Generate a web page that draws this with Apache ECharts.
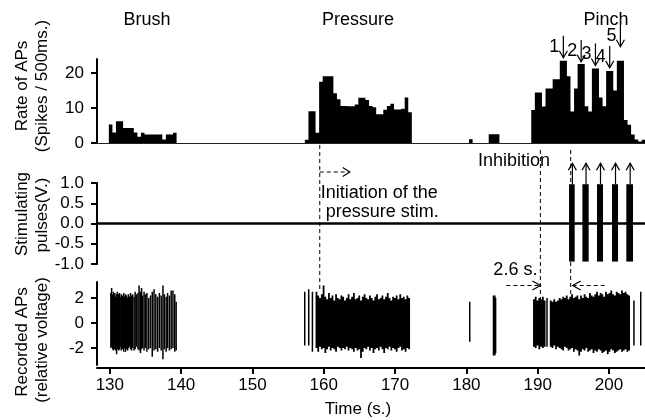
<!DOCTYPE html>
<html><head><meta charset="utf-8">
<script src="https://cdn.jsdelivr.net/npm/echarts@6/dist/echarts.min.js"></script>
<style>html,body{margin:0;padding:0;background:#fff}#c{width:645px;height:420px}</style>
</head><body><div id="c"></div>
<script>
// ---------- tick labels ----------
const xTicks = [130, 140, 150, 160, 170, 180, 190, 200];
const rateTicks = [0, 10, 20];
const stimTicks = [-1, -0.5, 0, 0.5, 1];
const apTicks = [-2, 0, 2];

// ---------- rate histogram (spikes / 500 ms), bin start times (s) ----------
const brushBinT = [129.86,130.36,130.86,131.36,131.86,132.36,132.86,133.36,133.86,134.36,134.86,135.36,135.86,136.36,136.86,137.36,137.86,138.36,138.86];
const brushBinV = [5.3,3.0,6.2,6.2,4.3,4.3,4.3,3.0,1.8,2.9,2.4,2.4,2.4,2.4,2.4,1.0,2.4,2.4,2.9];
const pressBinT = [157.35,157.85,158.35,158.85,159.35,159.85,160.35,160.85,161.35,161.85,162.35,162.85,163.35,163.85,164.35,164.85,165.35,165.85,166.35,166.85,167.35,167.85,168.35,168.85,169.35,169.85,170.35,170.85,171.35,171.85];
const pressBinV = [0.9,9.1,9.1,2.9,17.5,19.1,19.1,19.1,14.2,12.5,10.6,10.6,10.5,10.5,11.0,12.9,12.9,12.3,10.6,10.2,8.2,8.2,9.5,10.6,11.2,9.6,9.6,9.8,13.0,8.8];
const smallBinT = [180.37,183.13,183.63,184.13];
const smallBinV = [1.1,2.5,2.5,2.5];
const pinchBinT = [189.1,189.6,190.1,190.6,191.1,191.6,192.1,192.6,193.1,193.6,194.1,194.6,195.1,195.6,196.1,196.6,197.1,197.6,198.1,198.6,199.1,199.6,200.1,200.6,201.1,201.6,202.1,202.6,203.1,203.6,204.1,204.6];
const pinchBinV = [9.4,14.4,14.4,10.4,15.6,15.6,18.2,18.2,23.5,23.5,19.1,9.0,15.6,22.6,22.6,10.5,9.0,21.3,21.3,13.0,10.5,20.6,20.6,15.0,23.5,23.5,6.6,5.2,2.4,1.0,0.4,0.9];

// ---------- stimulating pulses (V.) ----------
const stimTraceT = [128.2, 205.05];
const stimTraceV = [0, 0];
const pulseStart = [194.40,196.27,198.32,200.42,202.43];
const pulseEnd   = [195.19,197.15,199.16,201.27,203.37];
const pulseLo    = [-0.94,-0.94,-0.94,-0.94,-0.94];
const pulseHi    = [0.97,0.97,0.97,0.97,0.97];

// ---------- recorded APs (relative voltage) ----------
const brushSpikeT = [130.15,130.25,130.4,130.5,130.6,130.7,130.8,130.95,131.05,131.15,131.25,131.35,131.45,131.6,131.7,131.8,131.95,132.05,132.2,132.35,132.5,132.6,132.75,132.9,133.05,133.2,133.4,133.55,133.75,133.95,134.1,134.3,134.45,134.6,134.8,135.0,135.2,135.45,135.7,135.95,136.2,136.45,136.7,136.95,137.2,137.45,137.65,137.9,138.1,138.35,138.6,138.85,139.1,139.3];
const brushSpikeHi = [2.4,2.8,2.3,2.5,2.2,2.4,2.1,2.3,2.5,2.2,2.3,2.4,2.1,2.3,2.0,2.2,2.4,2.1,2.3,2.2,2.0,2.3,2.1,2.4,2.2,2.3,2.1,2.5,2.3,2.4,3.0,2.5,2.8,2.2,2.5,2.3,2.4,2.0,2.2,2.5,2.7,2.3,2.1,2.4,2.2,3.0,2.3,2.1,2.4,2.2,2.6,2.6,2.3,1.7];
const brushSpikeLo = [-2.0,-1.9,-2.1,-2.2,-2.0,-2.1,-2.2,-2.5,-2.1,-2.0,-2.2,-2.1,-1.9,-2.2,-2.0,-2.1,-2.3,-2.0,-2.3,-2.1,-2.2,-2.0,-1.9,-2.1,-2.2,-2.0,-2.2,-2.1,-1.9,-2.1,-2.2,-2.4,-2.1,-2.0,-2.2,-2.0,-2.3,-2.1,-2.0,-2.7,-2.2,-2.1,-2.3,-2.0,-2.2,-2.9,-2.1,-2.3,-2.0,-2.2,-2.1,-2.0,-2.3,-2.2];
const otherSpikeT  = [157.33,157.89,158.41,180.47,183.8,183.9,184.0,184.1,191.31,203.5,204.45];
const otherSpikeHi = [2.5,2.7,2.5,1.7,2.2,2.1,2.2,2.0,2.0,1.8,2.5];
const otherSpikeLo = [-1.8,-1.8,-2.3,-1.5,-2.6,-2.5,-2.6,-2.4,-1.9,-1.8,-1.8];
const pressDenseT = [158.85,159.1,159.35,159.6,159.85,160.1,160.35,160.6,160.85,161.1,161.35,161.6,161.85,162.1,162.35,162.6,162.85,163.1,163.35,163.6,163.85,164.1,164.35,164.6,164.85,165.1,165.35,165.6,165.85,166.1,166.35,166.6,166.85,167.1,167.35,167.6,167.85,168.1,168.35,168.6,168.85,169.1,169.35,169.6,169.85,170.1,170.35,170.6,170.85,171.1,171.35,171.6,171.85];
const pressDenseHi = [2.5,2.2,2.0,2.3,3.0,2.1,1.9,2.4,2.0,2.2,1.8,2.3,2.0,1.9,2.2,2.1,1.8,2.0,2.3,1.9,2.1,2.4,1.9,2.0,2.2,1.8,2.1,2.3,2.0,1.9,2.2,2.0,1.8,2.1,2.3,1.9,2.0,2.2,1.9,2.1,2.4,2.0,1.8,2.1,2.0,2.2,1.9,2.3,2.0,2.1,1.9,2.2,2.0];
const pressDenseLo = [-2.0,-2.3,-1.9,-2.1,-2.0,-2.4,-2.1,-1.9,-2.2,-2.0,-2.1,-2.3,-1.9,-2.0,-2.2,-2.0,-2.1,-1.9,-2.2,-2.0,-2.1,-2.3,-2.0,-2.2,-2.1,-2.8,-2.3,-2.0,-2.1,-1.9,-2.2,-2.0,-2.4,-2.1,-2.0,-2.2,-1.9,-2.1,-2.4,-2.0,-2.1,-1.9,-2.2,-2.0,-2.1,-2.3,-2.0,-1.9,-2.2,-2.1,-2.3,-2.0,-2.1];
const pinchDenseT = [189.35,189.6,189.85,190.1,190.35,190.6,190.85,191.7,191.95,192.2,192.45,192.7,192.95,193.2,193.45,193.7,193.95,194.2,194.45,194.7,194.95,195.2,195.45,195.7,195.95,196.2,196.45,196.7,196.95,197.2,197.45,197.7,197.95,198.2,198.45,198.7,198.95,199.2,199.45,199.7,199.95,200.2,200.45,200.7,200.95,201.2,201.45,201.7,201.95,202.2,202.45,202.7];
const pinchDenseHi = [1.9,2.1,1.8,2.0,1.9,2.1,1.8,1.8,1.7,1.9,1.7,1.8,2.0,1.9,2.1,2.0,2.2,1.9,2.1,2.3,2.0,2.1,2.2,1.9,2.2,2.0,2.3,2.1,2.0,2.4,2.2,2.1,2.3,2.5,2.2,2.4,2.3,2.1,2.5,2.3,2.4,2.6,2.3,2.2,2.5,2.4,2.3,2.6,2.4,2.5,2.3,2.2];
const pinchDenseLo = [-1.9,-2.0,-1.8,-2.1,-1.9,-2.0,-1.9,-1.9,-2.0,-1.8,-2.1,-1.9,-2.0,-2.1,-2.2,-1.9,-2.0,-2.2,-2.1,-2.0,-2.3,-2.1,-2.2,-2.6,-2.3,-2.1,-2.2,-2.0,-2.3,-2.2,-2.1,-2.4,-2.2,-2.3,-2.1,-2.2,-2.4,-2.3,-2.2,-2.5,-2.3,-2.1,-2.2,-2.4,-2.3,-2.2,-2.1,-2.3,-2.2,-2.1,-2.3,-2.2];

// ---------- annotations ----------
const peakLabels = ['1','2','3','4','5'];
const peakT = [193.6,196.1,198.1,200.1,201.6];
const peakV = [23.5,22.6,21.3,20.6,23.5];
const markerT = [159.44,190.38,194.63];

// ---------- build ----------
const XMIN = 128.2, XMAX = 205.05, BIN = 0.5, DENSE = 0.25;
const FONT = '"Liberation Sans", Arial, Helvetica, sans-serif';
const zip = (...a) => a[0].map((_, i) => a.map(x => x[i]));

// split consecutive segments into contiguous runs
function runs(T, w) {
  const out = []; let cur = [];
  T.forEach((t, i) => {
    if (cur.length && t > T[i - 1] + w + 1e-6) { out.push(cur); cur = []; }
    cur.push(i);
  });
  if (cur.length) out.push(cur);
  return out;
}
// one filled outline per contiguous run: step top (hi) and step bottom (lo)
function bandSeries(xi, yi, T, LO, HI, w) {
  return {
    type: 'custom', xAxisIndex: xi, yAxisIndex: yi, clip: true,
    data: zip(T, LO, HI),
    renderItem: function (p, api) {
      if (p.dataIndex !== 0) return null;
      const children = runs(T, w).map(run => {
        const top = [], bot = [];
        run.forEach(i => {
          top.push(api.coord([T[i], HI[i]]), api.coord([T[i] + w, HI[i]]));
          bot.push(api.coord([T[i], LO[i]]), api.coord([T[i] + w, LO[i]]));
        });
        return {type: 'polygon', shape: {points: top.concat(bot.reverse())}, style: {fill: '#000'}};
      });
      return {type: 'group', children: children};
    }
  };
}
const zeros = a => a.map(() => 0);

const axisLine = {show: true, onZero: false, lineStyle: {color: '#000', width: 2}};
const tickStyle = {lineStyle: {color: '#000', width: 2}, length: 6, inside: false};
const lab = {color: '#000', fontSize: 17, fontFamily: FONT};

function yAx(grid, min, max, ticks, fmt) {
  return {
    gridIndex: grid, type: 'value', min: min, max: max,
    axisLine: axisLine,
    axisTick: Object.assign({show: true, customValues: ticks}, tickStyle),
    axisLabel: Object.assign({show: true, customValues: ticks, margin: 13, formatter: fmt}, lab),
    splitLine: {show: false}
  };
}

const option = {
  animation: false,
  backgroundColor: '#fff',
  grid: [
    {left: 97, right: 0, top: 59, height: 84},
    {left: 97, right: 0, top: 183, height: 81},
    {left: 97, right: 0, top: 282, height: 83}
  ],
  xAxis: [
    {gridIndex: 0, type: 'value', min: XMIN, max: XMAX,
     axisLine: {show: true, onZero: false, lineStyle: {color: '#222', width: 1}},
     axisTick: {show: false}, axisLabel: {show: false}, splitLine: {show: false}},
    {gridIndex: 1, type: 'value', min: XMIN, max: XMAX, show: false, splitLine: {show: false}},
    {gridIndex: 2, type: 'value', min: XMIN, max: XMAX, offset: 3,
     axisLine: axisLine,
     axisTick: Object.assign({show: true, customValues: xTicks}, tickStyle),
     axisLabel: Object.assign({show: true, customValues: xTicks, margin: 9}, lab),
     splitLine: {show: false}}
  ],
  yAxis: [
    yAx(0, 0, 24, rateTicks, v => String(v)),
    yAx(1, -1, 1, stimTicks, v => Number(v).toFixed(1)),
    yAx(2, -3.36, 3.28, apTicks, v => String(v))
  ],
  series: [
    bandSeries(0, 0, brushBinT, zeros(brushBinT), brushBinV, BIN),
    bandSeries(0, 0, pressBinT, zeros(pressBinT), pressBinV, BIN),
    bandSeries(0, 0, smallBinT, zeros(smallBinT), smallBinV, BIN),
    bandSeries(0, 0, pinchBinT, zeros(pinchBinT), pinchBinV, BIN),
    {type: 'line', xAxisIndex: 1, yAxisIndex: 1, data: zip(stimTraceT, stimTraceV), symbol: 'none',
     lineStyle: {color: '#000', width: 2.5}},
    {type: 'custom', xAxisIndex: 1, yAxisIndex: 1, data: zip(pulseStart, pulseEnd, pulseLo, pulseHi), clip: false,
     renderItem: function (p, api) {
       const a = api.coord([api.value(0), api.value(3)]);
       const b = api.coord([api.value(1), api.value(2)]);
       const cx = (a[0] + b[0]) / 2 + 0.5, top = a[1];
       return {type: 'group', children: [
         {type: 'rect', shape: {x: a[0], y: a[1], width: b[0] - a[0], height: b[1] - a[1]}, style: {fill: '#000'}},
         {type: 'line', shape: {x1: cx, y1: top, x2: cx, y2: top - 21}, style: {stroke: '#000', lineWidth: 1.2}},
         {type: 'polyline', shape: {points: [[cx - 4, top - 14], [cx, top - 21], [cx + 4, top - 14]]},
          style: {stroke: '#000', lineWidth: 1.3, fill: null}}
       ]};
     }},
    {type: 'custom', xAxisIndex: 2, yAxisIndex: 2, clip: true,
     data: [].concat(zip(brushSpikeT, brushSpikeLo, brushSpikeHi), zip(otherSpikeT, otherSpikeLo, otherSpikeHi)),
     renderItem: function (p, api) {
       const a = api.coord([api.value(0), api.value(2)]);
       const b = api.coord([api.value(0), api.value(1)]);
       return {type: 'line', shape: {x1: a[0], y1: a[1], x2: b[0], y2: b[1]}, style: {stroke: '#000', lineWidth: 1.5}};
     }},
    bandSeries(2, 2, pressDenseT, pressDenseLo, pressDenseHi, DENSE),
    bandSeries(2, 2, pinchDenseT, pinchDenseLo, pinchDenseHi, DENSE)
  ]
};

const chart = echarts.init(document.getElementById('c'));
chart.setOption(option);

// ---------- annotation layer ----------
const px = t => chart.convertToPixel({xAxisIndex: 2}, t);
const pyRate = v => chart.convertToPixel({yAxisIndex: 0}, v);
const g = [];
function text(x, y, s, align, size, opts) {
  g.push(Object.assign({type: 'text', x: x, y: y, silent: true,
    style: {text: s, fill: '#000', font: (size || 17) + 'px ' + FONT, align: align || 'center', verticalAlign: 'middle'}}, opts || {}));
}
function seg(x1, y1, x2, y2, dash, w) {
  g.push({type: 'line', silent: true, shape: {x1: x1, y1: y1, x2: x2, y2: y2},
    style: {stroke: '#000', lineWidth: w || 1, lineDash: dash ? [4, 3] : null}});
}
function head(points) {
  g.push({type: 'polyline', silent: true, shape: {points: points}, style: {stroke: '#000', lineWidth: 1.2, fill: null}});
}
text(147, 20, 'Brush', 'center', 18); text(358, 20, 'Pressure', 'center', 18); text(606, 20, 'Pinch', 'center', 18);
const R = Math.PI / 2;
text(22, 86, 'Rate of APs', 'center', 17, {rotation: R});
text(42, 86, '(Spikes / 500ms.)', 'center', 17, {rotation: R});
text(22, 214, 'Stimulating', 'center', 17, {rotation: R});
text(42, 215, 'pulses(V.)', 'center', 17, {rotation: R});
text(22, 342, 'Recorded APs', 'center', 17, {rotation: R});
text(42, 340, '(relative voltage)', 'center', 17, {rotation: R});
text(358, 409, 'Time (s.)', 'center', 17);
const tipOffset = [3, 2, 3, 3, 14];
peakLabels.forEach((s, i) => {
  const x = px(peakT[i]);
  const tip = pyRate(peakV[i]) - tipOffset[i];
  seg(x, tip - 22, x, tip, false, 1.2);
  head([[x - 4, tip - 7], [x, tip], [x + 4, tip - 7]]);
  text(x - 4, tip - 11, s, 'right', 18);
});
const m0 = px(markerT[0]), m1 = px(markerT[1]), m2 = px(markerT[2]);
seg(m0, 145, m0, 289, true);
seg(m1, 150, m1, 300, true);
seg(m2, 150, m2, 303, true);
seg(m0, 172, m0 + 30, 172, true);
head([[m0 + 23, 167.5], [m0 + 30, 172], [m0 + 23, 176.5]]);
text(m0 + 1, 193, 'Initiation of the', 'left', 18);
text(m0 + 6, 212, 'pressure stim.', 'left', 18);
text(478, 161, 'Inhibition', 'left', 18);
seg(m1 - 34, 285.5, m1, 285.5, true);
head([[m1 - 8, 281], [m1, 285.5], [m1 - 8, 290]]);
text(m1 - 3, 270, '2.6 s.', 'right', 18);
seg(m2 + 2, 285.5, m2 + 35, 285.5, true);
head([[m2 + 10, 281], [m2 + 2, 285.5], [m2 + 10, 290]]);

chart.setOption({graphic: g});
</script>
</body></html>
